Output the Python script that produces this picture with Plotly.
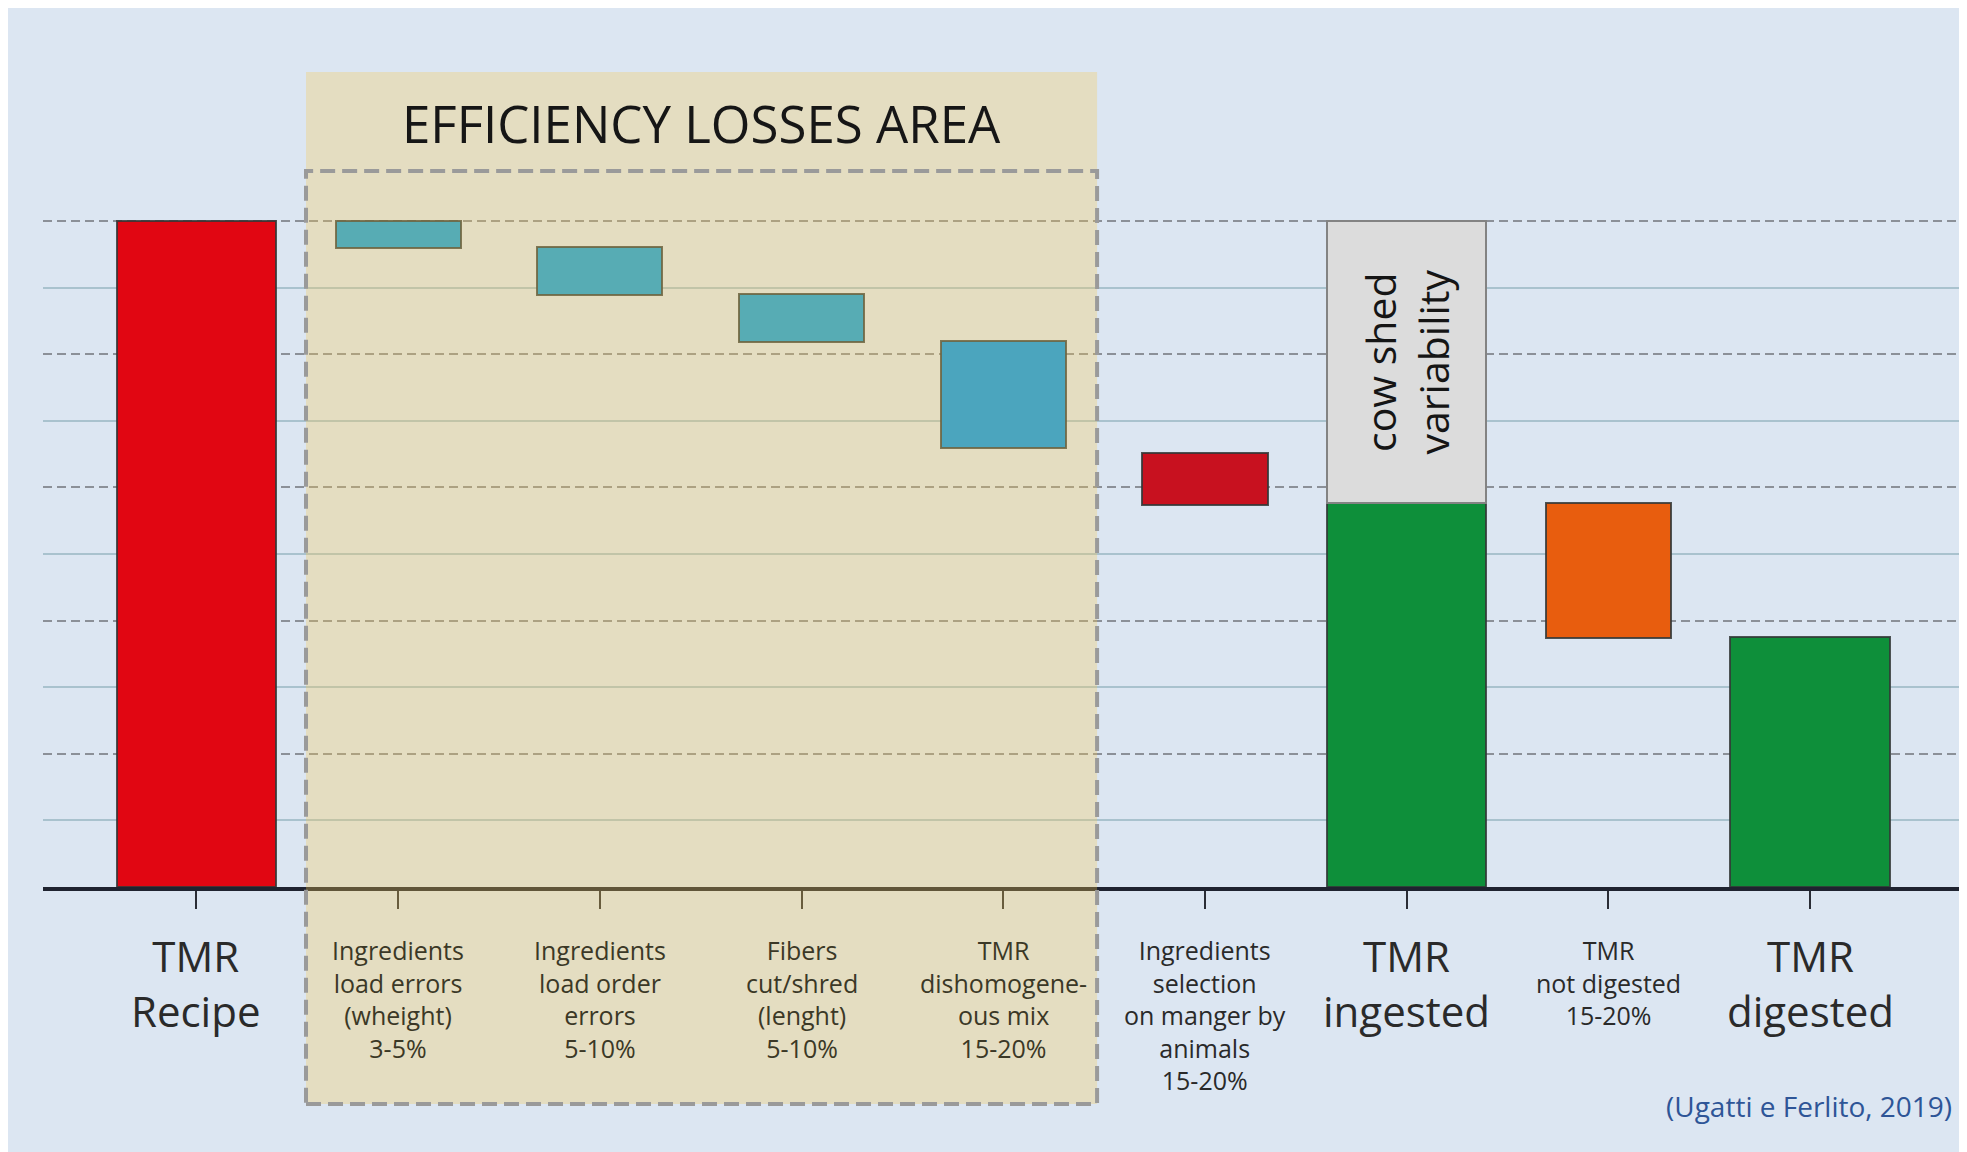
import plotly.graph_objects as go

# ---------------- data ----------------
categories = [
    "TMR Recipe", "Ingredients load errors", "Ingredients load order errors",
    "Fibers cut/shred", "TMR dishomogeneous mix", "Ingredients selection",
    "TMR ingested", "TMR not digested", "TMR digested",
]
tick_labels = [
    "TMR<br>Recipe",
    "Ingredients<br>load errors<br>(wheight)<br>3-5%",
    "Ingredients<br>load order<br>errors<br>5-10%",
    "Fibers<br>cut/shred<br>(lenght)<br>5-10%",
    "TMR<br>dishomogene-<br>ous mix<br>15-20%",
    "Ingredients<br>selection<br>on manger by<br>animals<br>15-20%",
    "TMR<br>ingested",
    "TMR<br>not digested<br>15-20%",
    "TMR<br>digested",
]
bar_top = [10.0, 10.0, 9.61, 8.91, 8.2, 6.52, 5.76, 5.77, 3.75]
bar_bottom = [0.0, 9.59, 8.89, 8.18, 6.59, 5.73, 0.0, 3.74, 0.0]
variability_category = ["TMR ingested"]
variability_bottom = [5.76]
variability_top = [10.0]
variability_text = ["cow shed<br>variability"]
box_title = "EFFICIENCY LOSSES AREA"
source_text = "(Ugatti e Ferlito, 2019)"

# ---------------- styles ----------------
bar_colors = ["#e10612", "#12a0e0", "#12a0e0", "#12a0e0", "#0096ee",
              "#c8111f", "#0e8f3a", "#e85d0e", "#0e8f3a"]
bar_widths = [0.79, 0.62, 0.62, 0.62, 0.62, 0.62, 0.79, 0.62, 0.79]
label_big = [True, False, False, False, False, False, True, False, True]
in_box = [False, True, True, True, True, False, False, False, False]
FONT = "Open Sans"

heights = [t - b for t, b in zip(bar_top, bar_bottom)]

fig = go.Figure()
fig.add_trace(go.Bar(
    x=categories, y=heights, base=bar_bottom,
    width=bar_widths,
    marker=dict(color=bar_colors, line=dict(color="rgba(50,55,55,0.85)", width=2)),
    hoverinfo="skip", showlegend=False,
))
fig.add_trace(go.Bar(
    x=variability_category,
    y=[t - b for t, b in zip(variability_top, variability_bottom)],
    base=variability_bottom,
    width=[0.79],
    marker=dict(color="#dcdcdc", line=dict(color="#838383", width=2)),
    text=variability_text, textposition="inside", textangle=-90,
    insidetextanchor="middle",
    textfont=dict(family=FONT, size=41, color="#151515"),
    hoverinfo="skip", showlegend=False,
))

# layout geometry; the page body has an 8px margin, so figure pixel = screen pixel - 8
OFF = 8
W, H = 1967 - OFF, 1152 - OFF
L = 43 - OFF
plot_h = 887 - OFF
B = H - plot_h
y_px_per_unit = 66.6
ymax = plot_h / y_px_per_unit


def py(pix):  # paper y from screen pixel y
    return (plot_h - (pix - OFF)) / plot_h


def px(pix):  # paper x from screen pixel x
    return (pix - OFF - L) / (W - L)


box_x0, box_x1 = 0.543, 4.465

shapes = [
    # tan translucent overlay
    dict(type="rect", xref="x", yref="paper", x0=box_x0, x1=box_x1, y0=py(1104), y1=py(72),
         fillcolor="rgba(248,203,80,0.30)", line=dict(width=0), layer="above"),
    # dashed border
    dict(type="rect", xref="x", yref="paper", x0=box_x0, x1=box_x1, y0=py(1104), y1=py(171),
         fillcolor="rgba(0,0,0,0)", line=dict(color="#9a9a9a", width=4, dash="15px,7px"),
         layer="above"),
]

annotations = []
for cat, lab, big, inside in zip(categories, tick_labels, label_big, in_box):
    annotations.append(dict(
        x=cat, xref="x", y=py(925 if big else 931), yref="paper",
        xanchor="center", yanchor="top", showarrow=False, align="center",
        text=lab,
        font=dict(family=FONT, size=42 if big else 25,
                  color="#3b3826" if inside else "#2a2a2a"),
    ))
annotations.append(dict(
    x=(box_x0 + box_x1) / 2, xref="x", y=py(123), yref="paper",
    xanchor="center", yanchor="middle", showarrow=False,
    text=box_title, font=dict(family=FONT, size=51, color="#161616"),
))
annotations.append(dict(
    x=px(1954), xref="paper", y=py(1106), yref="paper",
    xanchor="right", yanchor="middle", showarrow=False,
    text=source_text, font=dict(family=FONT, size=28, color="#2e5597"),
))

fig.update_layout(
    width=W, height=H, autosize=False,
    margin=dict(l=L, r=0, t=0, b=B, pad=0),
    paper_bgcolor="#dce6f2", plot_bgcolor="rgba(0,0,0,0)",
    barmode="overlay", bargap=0,
    shapes=shapes, annotations=annotations,
    xaxis=dict(
        type="category", categoryorder="array", categoryarray=categories,
        range=[-0.761, 8.778],
        showline=True, linecolor="#1f2330", linewidth=4,
        ticks="outside", ticklen=18, tickwidth=2, tickcolor="#2a2d36",
        showticklabels=False, showgrid=False, zeroline=False, fixedrange=True,
    ),
    yaxis=dict(
        range=[0, ymax], showticklabels=False, ticks="",
        tickmode="array", tickvals=[2, 4, 6, 8, 10],
        showgrid=True, gridcolor="#8b9098", gridwidth=1.5, griddash="9px,5px",
        minor=dict(tickmode="array", tickvals=[1, 3, 5, 7, 9], showgrid=True,
                   gridcolor="#a9c2ce", gridwidth=1.5, griddash="solid", ticks=""),
        zeroline=False, showline=False, fixedrange=True,
    ),
    showlegend=False,
)

fig.write_html("out.html")
